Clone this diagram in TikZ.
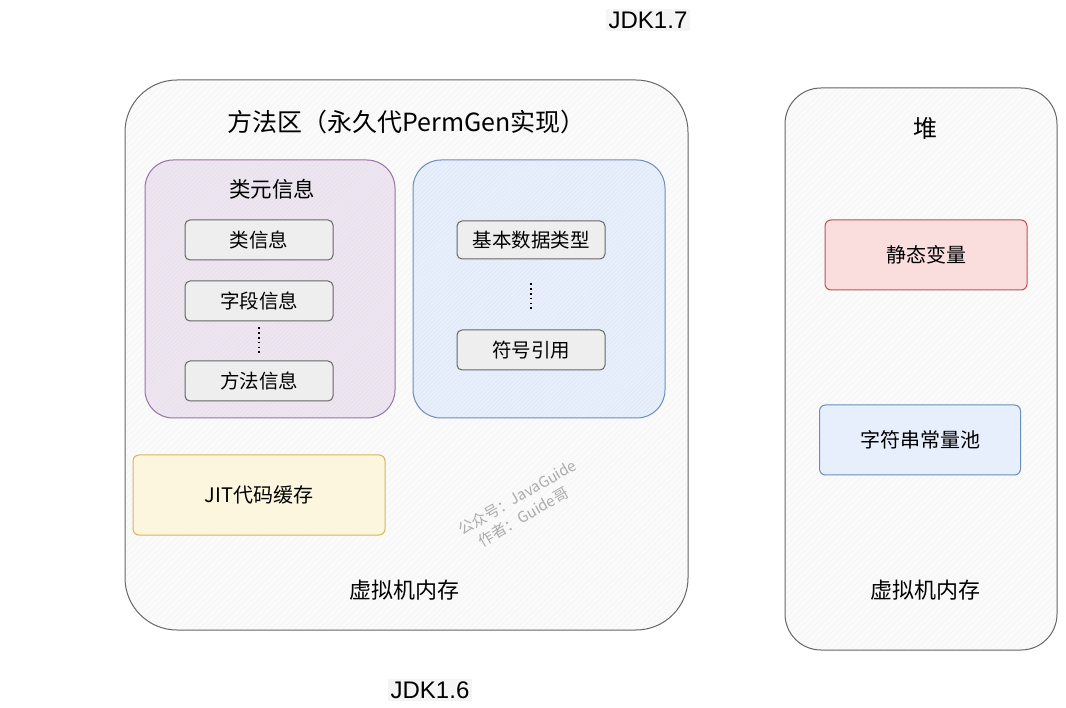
\documentclass[tikz,border=0pt]{standalone}
\usepackage{fontspec}
\setmainfont{Noto Sans CJK SC}
\newfontfamily\jdkfont{Liberation Sans}
\usetikzlibrary{positioning, patterns.meta}

\definecolor{areagray}{HTML}{FAFAFA}
\definecolor{areaedge}{HTML}{666666}
\definecolor{metafill}{HTML}{EDE5F0}
\definecolor{metaedge}{HTML}{9673A6}
\definecolor{poolfill}{HTML}{E7EFFC}
\definecolor{pooledge}{HTML}{6C8EBF}
\definecolor{jitfill}{HTML}{FDF6DF}
\definecolor{jitedge}{HTML}{D6B656}
\definecolor{staticfill}{HTML}{FADEDD}
\definecolor{staticedge}{HTML}{B85450}
\definecolor{itemfill}{HTML}{EEEEEE}

\begin{document}
\begin{tikzpicture}[x=1pt, y=-1pt,
        region/.style = {draw=areaedge, line width=1pt, preaction={fill=areagray}, pattern={Lines[angle=45, distance=4pt, line width=0.3pt]}, pattern color=black!6, inner sep=0pt},%
        group/.style = {draw=#1edge, line width=1pt, preaction={fill=#1fill}, pattern={Lines[angle=45, distance=3pt, line width=0.3pt]}, pattern color=#1edge!25, rounded corners=28pt, inner sep=0pt},%
        item/.style = {draw=areaedge, line width=1pt, fill=itemfill, rounded corners=5pt, minimum width=148pt, minimum height=40pt, inner sep=0pt, font=\fontsize{19.5}{21}\selectfont},%
        box/.style = {draw=#1edge, line width=1pt, fill=#1fill, rounded corners=6pt, minimum width=202pt, minimum height=70pt, inner sep=0pt, font=\fontsize{20}{22}\selectfont},%
        head/.style = {font=\fontsize{#1}{#1}\selectfont, inner sep=0pt},%
        vdots/.style = {line width=1.6pt, dash pattern=on 1.6pt off 3.2pt},%
        jdk/.style = {fill=black!4, inner sep=3pt, font=\jdkfont\fontsize{24}{24}\selectfont},%
        watermarktext/.style = {text=black!33, font=\fontsize{15}{20}\selectfont, rotate=30, align=left, inner sep=0pt}%
    ]%
        \useasboundingbox (0,0) rectangle (1066,708);
        \node[region, rounded corners=52pt, minimum width=563pt, minimum height=550pt] (permgen) at (406.5,355) {};
        \node[head=25, below=30pt of permgen.north] (permgentitle) {方法区（永久代PermGen实现）};
        \node[group=meta, minimum width=250pt, minimum height=258pt] (meta) at (270,289) {};
        \node[head=21.5, below=19pt of meta.north, xshift=2pt] (metatitle) {类元信息};
        \node[item] (classinfo) at (259,240) {类信息};
        \node[item, below=20pt of classinfo] (fieldinfo) {字段信息};
        \node[item] (methodinfo) at (259,381) {方法信息};
        \draw[vdots] ([yshift=-6pt]fieldinfo.south) -- ([yshift=6pt]methodinfo.north);
        \node[group=pool, minimum width=252pt, minimum height=258pt] (pool) at (539,289) {};
        \node[item, minimum height=38pt] (primtypes) at (531,240) {基本数据类型};
        \node[item] (symref) at (531,350) {符号引用};
        \draw[vdots] ([yshift=-24pt]primtypes.south) -- ([yshift=20pt]symref.north);
        \node[box=jit, minimum width=252pt, minimum height=80pt] (jit) at (259,495) {JIT代码缓存};
        \node[watermarktext] (watermark) at (522,506) {公众号：JavaGuide\\\hspace*{12pt}作者：Guide哥};
        \node[head=22] (vmleft) at (404,590) {虚拟机内存};
        \node[region, rounded corners=36pt, minimum width=272pt, minimum height=562pt] (heap) at (921,369) {};
        \node[head=24, below=30pt of heap.north, xshift=4pt] (heaptitle) {堆};
        \node[box=static] (staticvars) at (926,255) {静态变量};
        \node[box=pool, minimum width=201pt] (strpool) at (920,440) {字符串常量池};
        \node[head=22] (vmright) at (925,590) {虚拟机内存};
        \node[jdk] (jdk17) at (648,20) {JDK1.7};
        \node[jdk] (jdk16) at (430,690) {JDK1.6};
    \end{tikzpicture}
\end{document}
